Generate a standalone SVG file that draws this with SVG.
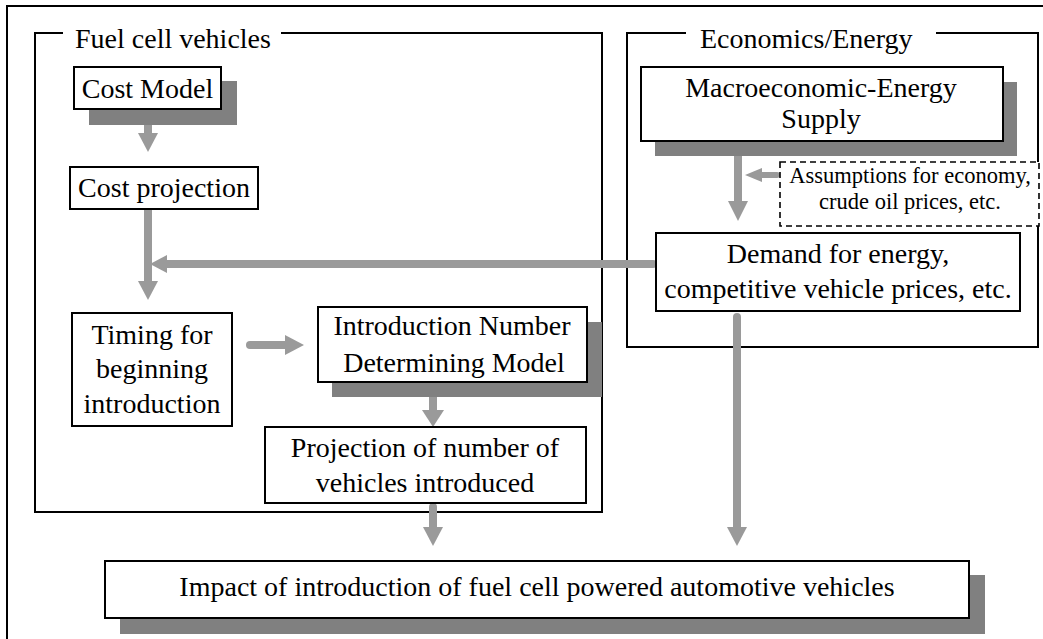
<svg xmlns="http://www.w3.org/2000/svg" width="1043" height="639" viewBox="0 0 1043 639">
<style>
.box{fill:#ffffff;stroke:#000000;stroke-width:2}
.shadow{fill:#808080;stroke:none}
.frame{fill:none;stroke:#000000;stroke-width:2}
.dash{fill:#ffffff;stroke:#000000;stroke-width:1.6;stroke-dasharray:6 4}
.t{font-family:"Liberation Serif","Times New Roman",serif;font-size:28px;fill:#000000;text-anchor:middle}
.ts{font-family:"Liberation Serif","Times New Roman",serif;font-size:22.5px;fill:#000000;text-anchor:middle}
.tl{font-family:"Liberation Serif","Times New Roman",serif;font-size:28px;fill:#000000}
.ln{stroke:#9a9a9a;stroke-width:8;stroke-linecap:round;fill:none}
.lns{stroke:#9a9a9a;stroke-width:6;stroke-linecap:round;fill:none}
.hd{fill:#9a9a9a;stroke:none}
</style>
<rect width="1043" height="639" fill="#ffffff"/>
<g id="outer-frame">
<path class="frame" d="M7,650 V6 H1060"/>
</g>
<g id="group-fuel-cell">
<path class="frame" d="M63,33 H35 V512 H602 V33 H281"/>
<text class="tl" x="75" y="48">Fuel cell vehicles</text>
</g>
<g id="group-economics">
<path class="frame" d="M686,33 H627 V347 H1038 V33 H936"/>
<text class="tl" x="700" y="48">Economics/Energy</text>
</g>
<g id="connectors">
<line class="ln" x1="148" y1="107" x2="148" y2="135"/>
<polygon class="hd" points="138,133 158,133 148,152"/>
<line class="ln" x1="148" y1="209" x2="148" y2="283"/>
<polygon class="hd" points="138,281 158,281 148,300"/>
<line class="ln" x1="653" y1="264" x2="165" y2="264"/>
<polygon class="hd" points="150,264 167,255 167,273"/>
<line class="ln" x1="250" y1="345" x2="287" y2="345"/>
<polygon class="hd" points="285,335 285,355 304,345"/>
<line class="ln" x1="433" y1="390" x2="433" y2="412"/>
<polygon class="hd" points="422,410 444,410 433,427"/>
<line class="ln" x1="433" y1="507" x2="433" y2="529"/>
<polygon class="hd" points="423,527 443,527 433,546"/>
<line class="ln" x1="738" y1="142" x2="738" y2="203"/>
<polygon class="hd" points="728,201 748,201 738,221"/>
<line class="lns" x1="777" y1="175" x2="760" y2="175"/>
<polygon class="hd" points="745,175 762,168 762,182"/>
<line class="ln" x1="737" y1="317" x2="737" y2="529"/>
<polygon class="hd" points="727,527 747,527 737,546"/>
</g>
<g id="node-cost-model">
<rect class="shadow" x="89" y="81" width="148" height="44"/>
<rect class="box" x="74" y="67" width="147" height="42"/>
<text class="t" x="147.5" y="98">Cost Model</text>
</g>
<g id="node-cost-projection">
<rect class="box" x="70" y="167" width="188" height="42"/>
<text class="t" x="164" y="197">Cost projection</text>
</g>
<g id="node-timing">
<rect class="box" x="72" y="313" width="160" height="113"/>
<text class="t" x="152" y="344">Timing for</text>
<text class="t" x="152" y="378">beginning</text>
<text class="t" x="152" y="413">introduction</text>
</g>
<g id="node-introduction-model">
<rect class="shadow" x="332" y="322" width="270" height="75"/>
<rect class="box" x="318" y="307" width="269" height="75"/>
<text class="t" x="452" y="335">Introduction Number</text>
<text class="t" x="454" y="372">Determining Model</text>
</g>
<g id="node-projection">
<rect class="box" x="265" y="427" width="321" height="76"/>
<text class="t" x="425" y="457">Projection of number of</text>
<text class="t" x="425" y="492">vehicles introduced</text>
</g>
<g id="node-macro">
<rect class="shadow" x="655" y="82" width="362" height="74"/>
<rect class="box" x="641" y="67" width="362" height="74"/>
<text class="t" x="821" y="97">Macroeconomic-Energy</text>
<text class="t" x="821" y="128">Supply</text>
</g>
<g id="node-assumptions">
<rect class="dash" x="780" y="162" width="259" height="64"/>
<text class="ts" x="910" y="183">Assumptions for economy,</text>
<text class="ts" x="910" y="209">crude oil prices, etc.</text>
</g>
<g id="node-demand">
<rect class="box" x="656" y="233" width="364" height="78"/>
<text class="t" x="838" y="263">Demand for energy,</text>
<text class="t" x="838" y="298">competitive vehicle prices, etc.</text>
</g>
<g id="node-impact">
<rect class="shadow" x="120" y="575" width="865" height="59"/>
<rect class="box" x="105" y="561" width="864" height="57"/>
<text class="t" x="537" y="596">Impact of introduction of fuel cell powered automotive vehicles</text>
</g>
</svg>
